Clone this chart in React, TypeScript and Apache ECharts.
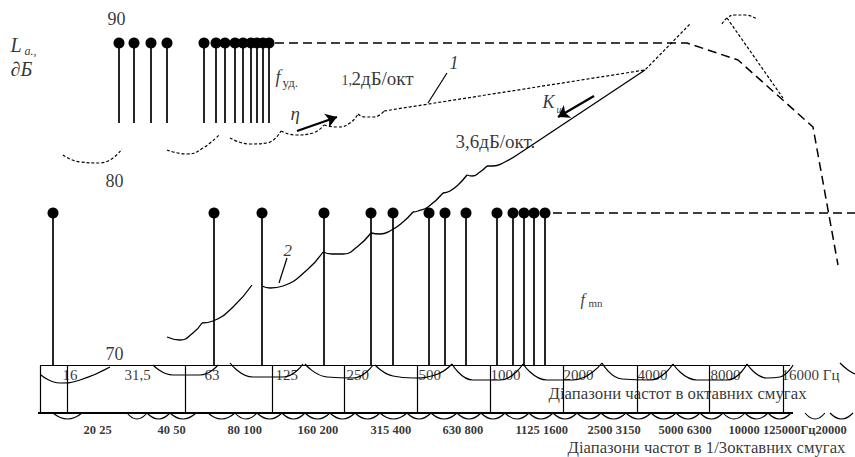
import React, { useEffect, useRef } from 'react';
import * as echarts from 'echarts';

type P = [number, number];

// ---------- data (drawing-sheet units: x to the right, y downward) ----------
const topStemX = [119, 134, 151, 167, 204, 216, 225, 235, 243, 251, 257, 263, 269];
const topStemTop = 43;
const topStemBase = 123;
const bottomStemX = [53, 214, 262, 324, 371, 393, 429, 445, 466, 497, 513, 524, 534, 545];
const bottomStemTop = 213;
const bottomStemBase = 365;

// curve 1 (1,2 dB/oct, dotted)
const curve1Arcs: P[][] = [
  [[63, 155], [80, 162], [100, 163], [122, 149]],
  [[167, 150], [187, 154], [203, 148], [220, 134]],
  [[230, 138], [250, 144], [267, 143], [281, 131]],
  [[281, 131], [296, 135], [313, 133], [324, 125]],
  [[324, 125], [338, 127], [350, 123], [358, 114]],
  [[358, 114], [365, 117], [374, 117], [384, 111]],
];
const curve1Line: P[] = [[384, 111], [645, 70], [690, 24]];
const curve1Hook: P[] = [[722, 24], [727, 18], [735, 15], [745, 15], [757, 19]];
const curve1Fall: P[] = [[727, 18], [783, 98]];

// curve 2 (3,6 dB/oct, solid)
const curve2Arcs: P[][] = [
  [[167, 337], [180, 340], [193, 333], [202, 323]],
  [[202, 323], [213, 321], [233, 307], [252, 285]],
  [[262, 286], [270, 288], [283, 286], [307, 270], [323, 252]],
  [[323, 252], [332, 254], [343, 254], [357, 247], [371, 233]],
  [[371, 233], [380, 234], [390, 231], [403, 222], [413, 212]],
  [[413, 212], [418, 211], [428, 207], [443, 193]],
  [[443, 193], [450, 191], [458, 185], [467, 175]],
  [[467, 175], [472, 176], [480, 172], [487, 166]],
  [[487, 166], [493, 166], [503, 163], [520, 153]],
];
const curve2Line: P[] = [[520, 153], [645, 70]];

// dashed envelopes
const envelopeUpper: P[] = [[275, 43], [687, 43], [738, 60], [813, 127], [838, 265]];
const envelopeLower: P[] = [[553, 213], [855, 213]];

// octave band scale
const octaveGridX = [40, 67, 185, 272, 344, 417, 490, 563, 637, 709, 783];
const scaleTop = 365;
const scaleBottom = 413;
const scaleTopEnd = 790;
const scaleBottomStart = 38;
const scaleBottomEnd = 793;
const octaveArcs: P[][] = [
  [[41, 375], [60, 383], [80, 380], [110, 367]],
  [[153, 365], [173, 375], [200, 375], [218, 365]],
  [[230, 363], [253, 377], [283, 377], [303, 364]],
  [[305, 364], [327, 377], [353, 378], [373, 365]],
  [[375, 365], [393, 376], [413, 378], [435, 375], [452, 364]],
  [[452, 364], [473, 380], [500, 380], [523, 364]],
  [[523, 364], [547, 380], [573, 380], [602, 363]],
  [[602, 363], [622, 379], [650, 380], [673, 364]],
  [[673, 364], [697, 380], [727, 380], [747, 364]],
  [[747, 364], [767, 378], [780, 377], [793, 365]],
  [[840, 363], [848, 370], [855, 374]],
];
// 1/3-octave band edges (arcs under the scale)
const thirdOctaveEdges: number[][] = [
  [53, 82],
  [127, 147, 170, 196],
  [208, 235, 257, 282, 305, 330, 355, 380, 407, 431, 457, 481, 505, 529, 553, 577, 601, 626, 651, 676, 700, 723, 745, 768, 791],
  [805, 825],
  [830, 853],
];
const thirdArcBase = 413;
const thirdArcLow = 419;

// labels
const levelLabels = ['90', '80', '70'];
const octaveLabels = ['16', '31,5', '63', '125', '250', '500', '1000', '2000', '4000', '8000', '16000 Гц'];
const thirdOctaveLabels = ['20 25', '40 50', '80 100', '160 200', '315 400', '630 800', '1125 1600', '2500 3150', '5000 6300', '10000 125000Гц20000'];

// ---------- layout ----------
const levelLabelPos: P[] = [[107, 19], [105, 181], [105, 354]];
const octaveLabelX = [62, 124, 204, 275, 346, 418, 490, 563, 637, 710, 781];
const octaveLabelY = 375;
const thirdLabelX = [83, 157, 227, 297, 370, 442, 515, 587, 658, 728];
const thirdLabelY = 430;

const annotations = [
  { text: 'L', x: 10, y: 45, size: 20, italic: true },
  { text: 'a.,', x: 24, y: 51, size: 12, italic: true },
  { text: '∂Б', x: 10, y: 69, size: 20, italic: true },
  { text: 'f', x: 275, y: 77, size: 18, italic: true },
  { text: 'уд.', x: 282, y: 82, size: 13 },
  { text: '1,', x: 341, y: 80, size: 14 },
  { text: '2дБ/окт', x: 351, y: 78, size: 19 },
  { text: '1', x: 449, y: 63, size: 18, italic: true },
  { text: 'η', x: 290, y: 113, size: 19, italic: true },
  { text: 'K', x: 542, y: 102, size: 18, italic: true },
  { text: 'ш', x: 556, y: 109, size: 10, italic: true },
  { text: '3,6дБ/окт.', x: 455, y: 141, size: 19 },
  { text: '2', x: 283, y: 250, size: 17, italic: true },
  { text: 'f', x: 580, y: 299, size: 16, italic: true },
  { text: 'mn', x: 588, y: 303, size: 11 },
  { text: 'Діапазони частот в октавних смугах', x: 548, y: 393, size: 16.8 },
  { text: 'Діапазони частот в 1/3октавних смугах', x: 567, y: 447, size: 16.7 },
];

const arrows: P[][] = [
  [[297, 131], [337, 117]],
  [[594, 96], [558, 117]],
];
const leaders: P[][] = [
  [[447, 73], [428, 103]],
  [[287, 258], [279, 283]],
];

const FONT = 'Liberation Serif, Times New Roman, serif';
const INK = '#000';

function lineSeries(data: P[], smooth: boolean, width: number, type: any) {
  return {
    type: 'line',
    data,
    smooth,
    symbol: 'none',
    showSymbol: false,
    silent: true,
    lineStyle: { color: INK, width, type },
    z: 3,
  };
}

function textItem(text: string, x: number, y: number, size: number, italic = false, bold = false) {
  return {
    value: [x, y],
    label: {
      formatter: text,
      fontSize: size,
      fontFamily: FONT,
      fontStyle: italic ? 'italic' : 'normal',
      fontWeight: bold ? 'bold' : 'normal',
    },
  };
}

function buildOption() {
  const series: any[] = [];

  // scale grid
  const gridLines: any[] = [
    { coords: [[octaveGridX[0], scaleTop], [scaleTopEnd, scaleTop]] },
    ...octaveGridX.map((x) => ({ coords: [[x, scaleTop], [x, scaleBottom]] })),
  ];
  series.push({
    type: 'lines',
    coordinateSystem: 'cartesian2d',
    silent: true,
    data: gridLines,
    lineStyle: { color: INK, width: 1.2, opacity: 1, curveness: 0 },
    z: 2,
  });
  series.push({
    type: 'lines',
    coordinateSystem: 'cartesian2d',
    silent: true,
    data: [{ coords: [[scaleBottomStart, scaleBottom], [scaleBottomEnd, scaleBottom]] }],
    lineStyle: { color: INK, width: 2, opacity: 1, curveness: 0 },
    z: 2,
  });

  // octave arcs
  octaveArcs.forEach((a) => series.push(lineSeries(a, true, 1.2, 'solid')));

  // 1/3-octave arcs
  const thirdPairs: number[][] = [];
  thirdOctaveEdges.forEach((g) => {
    for (let i = 0; i < g.length - 1; i++) thirdPairs.push([g[i], g[i + 1]]);
  });
  series.push({
    type: 'custom',
    silent: true,
    data: thirdPairs,
    encode: { x: [0, 1] },
    renderItem: (_p: any, api: any) => {
      const a = api.coord([api.value(0), thirdArcBase]);
      const b = api.coord([api.value(1), thirdArcBase]);
      const low = api.coord([api.value(0), thirdArcLow]);
      return {
        type: 'bezierCurve',
        shape: { x1: a[0], y1: a[1], x2: b[0], y2: b[1], cpx1: (a[0] + b[0]) / 2, cpy1: 2 * low[1] - a[1] },
        style: { stroke: INK, fill: 'none', lineWidth: 1.1 },
      };
    },
    z: 2,
  });

  // curve 1 (dotted)
  const dot = [3, 2];
  curve1Arcs.forEach((a) => series.push(lineSeries(a, true, 1.2, dot)));
  series.push(lineSeries(curve1Line, false, 1.2, dot));
  series.push(lineSeries(curve1Hook, true, 1.2, dot));
  series.push(lineSeries(curve1Fall, false, 1.2, dot));

  // curve 2 (solid)
  curve2Arcs.forEach((a) => series.push(lineSeries(a, true, 1.3, 'solid')));
  series.push(lineSeries(curve2Line, false, 1.3, 'solid'));

  // dashed envelopes
  series.push(lineSeries(envelopeUpper, false, 1.5, [9, 5]));
  series.push(lineSeries(envelopeLower, false, 1.5, [9, 5]));

  // stems
  series.push({
    type: 'custom',
    silent: true,
    data: [
      ...topStemX.map((x) => [x, topStemTop, topStemBase]),
      ...bottomStemX.map((x) => [x, bottomStemTop, bottomStemBase]),
    ],
    encode: { x: 0, y: [1, 2] },
    renderItem: (_p: any, api: any) => {
      const t = api.coord([api.value(0), api.value(1)]);
      const b = api.coord([api.value(0), api.value(2)]);
      return {
        type: 'group',
        children: [
          { type: 'line', shape: { x1: t[0], y1: t[1], x2: b[0], y2: b[1] }, style: { stroke: INK, lineWidth: 1.7 } },
          { type: 'circle', shape: { cx: t[0], cy: t[1], r: 5.5 }, style: { fill: INK } },
        ],
      };
    },
    z: 4,
  });

  // arrows and leader lines
  series.push({
    type: 'lines',
    coordinateSystem: 'cartesian2d',
    silent: true,
    data: arrows.map((c) => ({ coords: c })),
    symbol: ['none', 'arrow'],
    symbolSize: 11,
    lineStyle: { color: INK, width: 2.2, opacity: 1, curveness: 0 },
    z: 5,
  });
  series.push({
    type: 'lines',
    coordinateSystem: 'cartesian2d',
    silent: true,
    data: leaders.map((c) => ({ coords: c })),
    lineStyle: { color: INK, width: 1.2, opacity: 1, curveness: 0 },
    z: 5,
  });

  // texts
  const texts: any[] = [];
  levelLabels.forEach((t, i) => texts.push(textItem(t, levelLabelPos[i][0], levelLabelPos[i][1], 18)));
  octaveLabels.forEach((t, i) => texts.push(textItem(t, octaveLabelX[i], octaveLabelY, 15)));
  thirdOctaveLabels.forEach((t, i) => texts.push(textItem(t, thirdLabelX[i], thirdLabelY, 12.5, false, true)));
  annotations.forEach((a: any) => texts.push(textItem(a.text, a.x, a.y, a.size, !!a.italic, !!a.bold)));
  series.push({
    type: 'scatter',
    silent: true,
    symbolSize: 1,
    itemStyle: { color: 'rgba(0,0,0,0)' },
    label: { show: true, position: 'right', distance: 0, color: INK, fontFamily: FONT },
    data: texts,
    z: 10,
  });

  return {
    animation: false,
    backgroundColor: '#ffffff',
    textStyle: { fontFamily: FONT },
    grid: { left: 0, right: 0, top: 0, bottom: 0 },
    xAxis: { type: 'value', min: 0, max: 855, show: false },
    yAxis: { type: 'value', min: 0, max: 457, inverse: true, show: false },
    series,
  };
}

export default function App() {
  const ref = useRef<HTMLDivElement>(null);
  useEffect(() => {
    if (!ref.current) return;
    const chart = echarts.init(ref.current, null, { renderer: 'svg' });
    chart.setOption(buildOption() as any);
    return () => chart.dispose();
  }, []);
  return (
    <div
      ref={ref}
      style={{ position: 'absolute', left: 0, top: 0, width: 855, height: 457, background: '#fff' }}
    />
  );
}
